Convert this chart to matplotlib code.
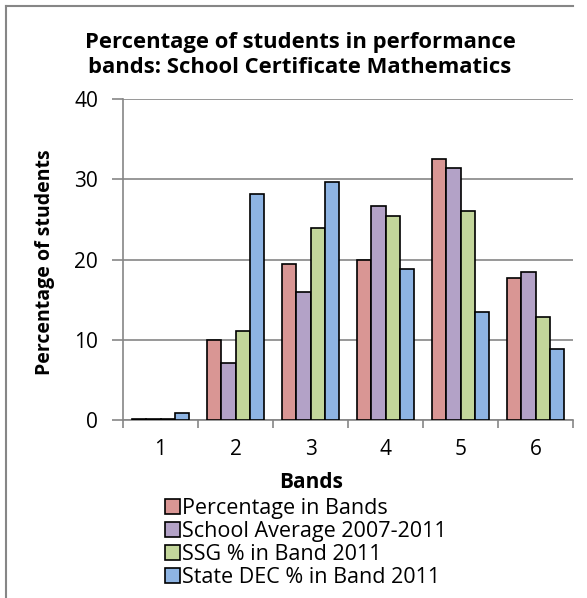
import matplotlib
matplotlib.use("Agg")
from matplotlib import pyplot as plt
from matplotlib.lines import Line2D
import numpy as np

plt.rcParams['font.family'] = ['Open Sans', 'DejaVu Sans']

bands = ["1", "2", "3", "4", "5", "6"]
pct_in_bands = [0.1, 10.0, 19.5, 19.9, 32.5, 17.7]
school_avg = [0.1, 7.1, 16.0, 26.7, 31.4, 18.4]
ssg_2011 = [0.1, 11.1, 23.9, 25.4, 26.1, 12.8]
state_dec_2011 = [0.9, 28.2, 29.7, 18.8, 13.5, 8.8]

series = [
    ("Percentage in Bands", pct_in_bands, "#D99694"),
    ("School Average 2007-2011", school_avg, "#B3A2C7"),
    ("SSG % in Band 2011", ssg_2011, "#C3D69B"),
    ("State DEC % in Band 2011", state_dec_2011, "#8EB4E3"),
]

W, H = 587, 598
fig = plt.figure(figsize=(W / 100, H / 100), dpi=100)
ax = fig.add_axes([123 / W, 1 - 420 / H, (573 - 123) / W, (420 - 99) / H])

x = np.arange(len(bands))
bw = 0.189
for i, (name, vals, col) in enumerate(series):
    ax.bar(x + (i - 1.5) * bw, vals, bw, color=col, edgecolor="black",
           linewidth=1.2, label=name, zorder=3)

grey = "#868686"
ax.set_xlim(-0.5, len(bands) - 0.5)
ax.set_ylim(0, 40)
ax.set_yticks([0, 10, 20, 30, 40])
ax.yaxis.grid(True, color=grey, linewidth=1.2, zorder=0)
ax.set_xticks(x)
ax.set_xticklabels(bands)
ax.set_xticks(np.arange(-0.5, len(bands)), minor=True)
ax.tick_params(axis="x", which="major", length=0, pad=14, labelsize=15)
ax.tick_params(axis="x", which="minor", length=6, color=grey, width=1.2)
ax.tick_params(axis="y", length=8, color=grey, width=1.2, pad=10, labelsize=15)
for s in ["top", "right"]:
    ax.spines[s].set_visible(False)
for s in ["left", "bottom"]:
    ax.spines[s].set_color(grey)
    ax.spines[s].set_linewidth(1.2)

fig.text(300 / W, 1 - 55 / H,
         "Percentage of students in performance\nbands: School Certificate Mathematics",
         ha="center", va="center", fontsize=15.8, fontweight="bold", linespacing=1.2)
fig.text(45 / W, 1 - 262 / H, "Percentage of students", rotation=90,
         ha="center", va="center", fontsize=14, fontweight="bold")
fig.text(311 / W, 1 - 482 / H, "Bands", ha="center", va="center",
         fontsize=15, fontweight="bold")

leg = fig.legend(loc="upper left", bbox_to_anchor=(165 / W, 1 - 498 / H),
                 frameon=False, fontsize=15.5, handlelength=0.7, handleheight=0.7,
                 handletextpad=0.1, labelspacing=0.1, borderpad=0, borderaxespad=0)

# outer chart border (cropped at right and bottom)
fig.add_artist(Line2D([6 / W, 573 / W], [1 - 6 / H, 1 - 6 / H], color=grey, linewidth=1.5))
fig.add_artist(Line2D([6 / W, 6 / W], [1 - 6 / H, 0], color=grey, linewidth=1.5))

fig.savefig("out.png", dpi=100)
